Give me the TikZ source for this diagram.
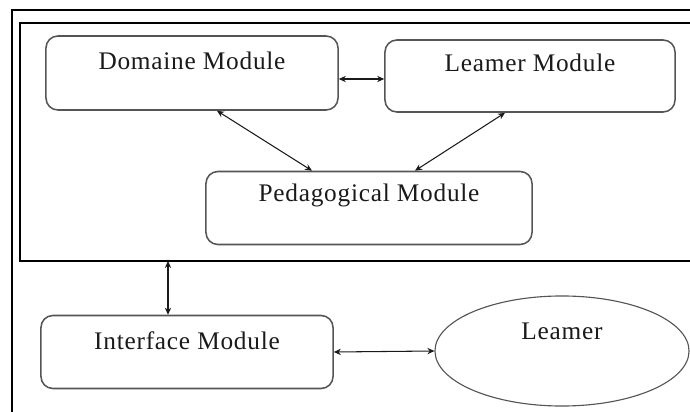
\documentclass[tikz,border=0pt]{standalone}
\usepackage{fontspec}
\setmainfont{Liberation Serif}
\newfontfamily\labfont[LetterSpace=3]{Liberation Serif}
\usetikzlibrary{calc,arrows.meta,shapes.geometric}
\definecolor{ink}{HTML}{1A1A1A}
\definecolor{edge}{HTML}{555555}
\tikzset{
  frame/.style={draw=black, line width=0.8pt},
  modbox/.style={draw=edge, line width=1.1pt, rounded corners=0.3cm, minimum width=7.3cm, minimum height=1.85cm},
  learnbox/.style={draw=edge, line width=0.8pt, ellipse, minimum width=6.35cm, minimum height=2.75cm, inner sep=0pt},
  lab/.style={text=ink, font=\labfont\fontsize{18}{20}\selectfont},
  arr/.style={draw=ink, line width=0.75pt, {Stealth[length=5pt,width=4.5pt]}-{Stealth[length=5pt,width=4.5pt]}},
}

\begin{document}
\begin{tikzpicture}[x=0.025cm, y=-0.025cm]
  \useasboundingbox (0,0) rectangle (690,412);
  \clip (0,0) rectangle (690,412);
  % frames
  \draw[frame] (12,10) rectangle (720,440);
  \draw[frame] (20,23) rectangle (720,261);
  \coordinate (tutor) at (168,261);
  % modules
  \node[modbox, label={[lab,yshift=8.5pt]center:Domaine Module}] (dom) at (192,73) {};
  \node[modbox, minimum width=7.25cm, minimum height=1.8cm,
        label={[lab,yshift=9pt]center:Leamer Module}] (lm) at (530,76) {};
  \node[modbox, minimum width=8.15cm, minimum height=1.825cm,
        label={[lab,yshift=9pt]center:Pedagogical Module}] (ped) at (369,208) {};
  \node[modbox, minimum height=1.825cm,
        label={[lab,yshift=8pt]center:Interface Module}] (intf) at (187,352) {};
  \node[learnbox, label={[lab,yshift=14pt]center:Leamer}] (user) at (562,351) {};
  % connectors
  \draw[arr] ($(dom.east)+(0,6)$) -- ($(lm.west)+(0,3)$);
  \draw[arr] ($(dom.south)+(25,0)$) -- ($(ped.north)+(-57,0)$);
  \draw[arr] ($(lm.south)+(-25,0)$) -- ($(ped.north)+(46,0)$);
  \draw[arr] (tutor) -- (tutor |- intf.north);
  \draw[arr] (intf.east) -- (user.west);
\end{tikzpicture}
\end{document}
